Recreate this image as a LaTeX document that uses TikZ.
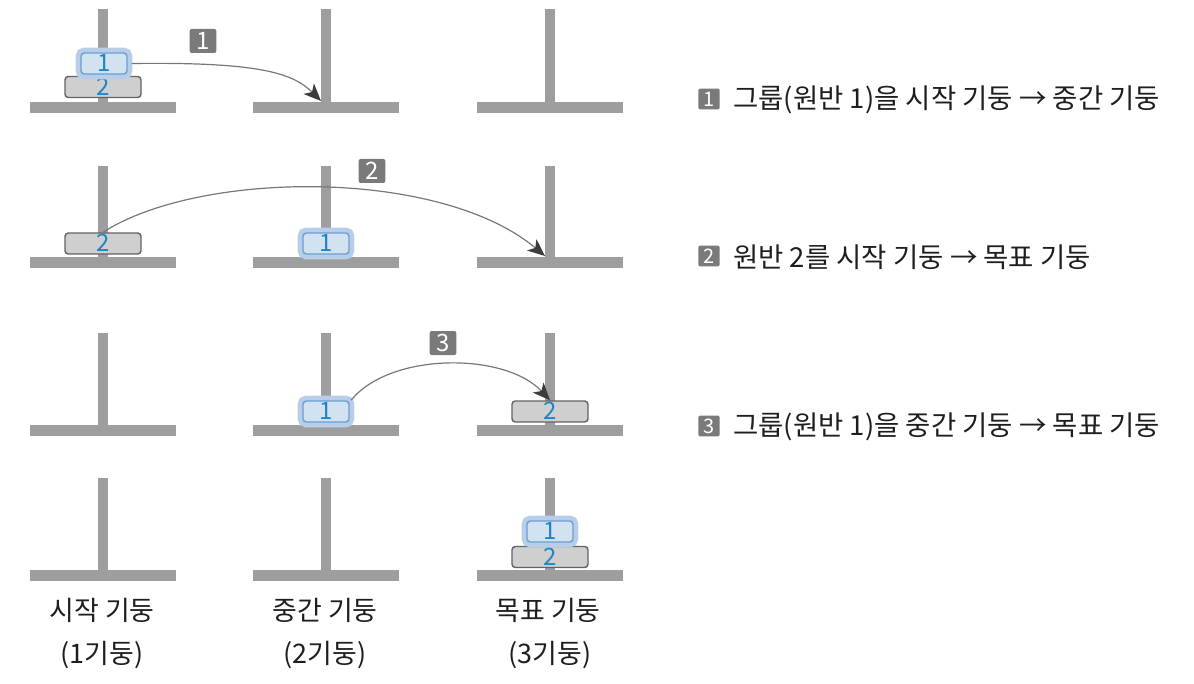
\documentclass[tikz,border=0pt]{standalone}
\usepackage{fontspec}
\setmainfont{Noto Sans CJK KR}
\usetikzlibrary{arrows.meta}
\definecolor{polec}{HTML}{9E9E9E}
\definecolor{diskfill}{HTML}{CFCFCF}
\definecolor{diskedge}{HTML}{636363}
\definecolor{onefill}{HTML}{D3E2F0}
\definecolor{oneedge}{HTML}{6A9FD2}
\definecolor{glowc}{HTML}{B8CEE8}
\definecolor{numblue}{HTML}{1A86C8}
\definecolor{badgec}{HTML}{7A7A7A}
\definecolor{linec}{HTML}{777777}
\definecolor{headc}{HTML}{3C3C3C}
\definecolor{textc}{HTML}{1E1E1E}
\begin{document}
\begin{tikzpicture}[x=0.75pt,y=-0.75pt,
  disktwo/.style={draw=diskedge, fill=diskfill, line width=1.1pt, rounded corners=2.5pt,
    minimum width=57pt, minimum height=15.75pt, inner sep=0pt, text height=12.5pt, text depth=0pt,
    text=numblue, font=\fontsize{18}{18}\selectfont},
  diskone/.style={draw=oneedge, fill=onefill, line width=1.1pt, rounded corners=2.5pt,
    minimum width=34.5pt, minimum height=15.75pt, inner sep=0pt, text height=12.5pt, text depth=0pt,
    text=numblue, font=\fontsize{18}{18}\selectfont, preaction={draw=glowc, line width=8pt}},
  badge/.style={fill=badgec, rounded corners=1.5pt, minimum width=20pt, minimum height=18pt,
    inner sep=0pt, text=white, font=\fontsize{18}{18}\selectfont},
  sbadge/.style={fill=badgec, rounded corners=1pt, minimum width=16pt, minimum height=15.5pt,
    inner sep=0pt, text=white, font=\fontsize{15}{15}\selectfont},
  desc/.style={anchor=west, inner sep=0pt, text=textc, font=\fontsize{20.6}{20.6}\selectfont},
  lbl/.style={inner sep=0pt, text=textc, font=\fontsize{20.2}{20.2}\selectfont},
  move/.style={draw=linec, line width=0.9pt, -{Stealth[color=headc, length=13pt, width=11pt, inset=3.5pt]}}
]
\useasboundingbox (0,0) rectangle (1194,684);
% pegs
\foreach \cx in {103,326,550}{
  \foreach \tp/\bs in {9/102,166/257,333/425,478/570}{
    \fill[polec] (\cx-5,\tp) rectangle (\cx+5,\bs);
    \fill[polec] (\cx-73,\bs) rectangle (\cx+73,\bs+11);
  }
}
\coordinate (p2r1) at (321,101);
\coordinate (p3r2) at (545,256);
% row 1
\node[disktwo] (d2a) at (103,87) {2};
\node[diskone] (d1a) at (104,63.5) {1};
% row 2
\node[disktwo] (d2b) at (103,243.5) {2};
\node[diskone] (d1b) at (326,243.5) {1};
% row 3
\node[diskone] (d1c) at (326,411.5) {1};
\node[disktwo] (d2c) at (550,411.5) {2};
% row 4
\node[disktwo] (d2d) at (550,557) {2};
\node[diskone] (d1d) at (550,531.5) {1};
% step badges
\node[badge] (b1) at (203,41) {1};
\node[badge] (b2) at (372,171) {2};
\node[badge] (b3) at (443,343) {3};
% moves
\draw[move] ([xshift=3pt]d1a.east) .. controls (255,62) and (292,72) .. (p2r1);
\draw[move] (d2b.north) .. controls (200,170) and (440,168) .. (p3r2);
\draw[move] ([xshift=1pt]d1c.north east) .. controls (390,352) and (505,352) .. (d2c.north);
% descriptions
\node[sbadge] (s1) at (709,99) {1};
\node[desc] (t1) at (733,100) {그룹(원반 1)을 시작 기둥 → 중간 기둥};
\node[sbadge] (s2) at (709,256) {2};
\node[desc] (t2) at (733,257) {원반 2를 시작 기둥 → 목표 기둥};
\node[sbadge] (s3) at (709,426) {3};
\node[desc] (t3) at (733,427) {그룹(원반 1)을 중간 기둥 → 목표 기둥};
% peg labels
\node[lbl] (l1) at (102,610) {시작 기둥};
\node[lbl] (l1b) at (102,655) {(1기둥)};
\node[lbl] (l2) at (325,610) {중간 기둥};
\node[lbl] (l2b) at (325,655) {(2기둥)};
\node[lbl] (l3) at (548,610) {목표 기둥};
\node[lbl] (l3b) at (550,655) {(3기둥)};
\end{tikzpicture}
\end{document}
